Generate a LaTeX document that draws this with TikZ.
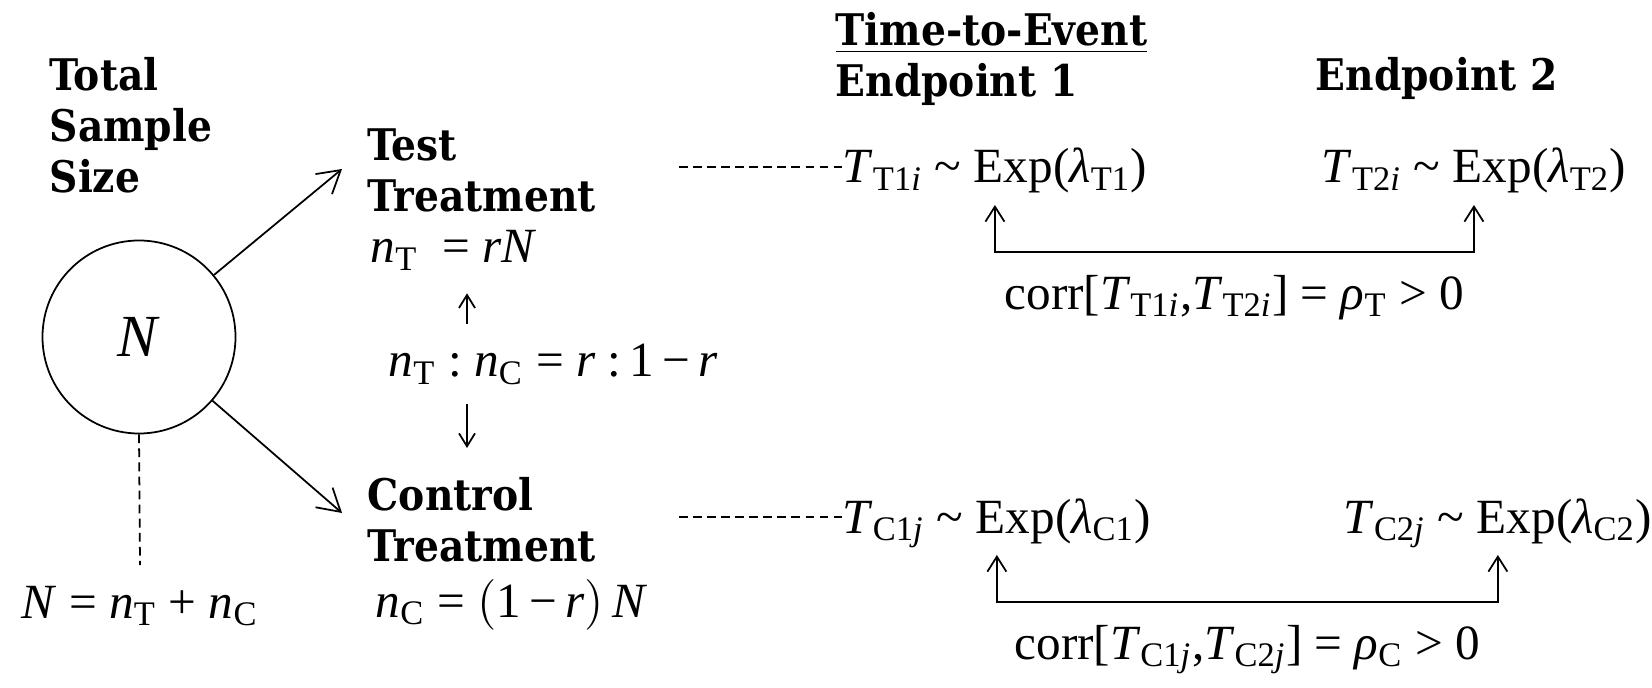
\documentclass[tikz,border=0pt]{standalone}
\usepackage{fontspec}
\setmainfont{Liberation Serif}
\newfontfamily\lblfont{DejaVu Serif Condensed Bold}
\usetikzlibrary{arrows.meta, positioning}

% variables in italic, indices as subscripts
\newcommand{\vi}[1]{\textit{#1}}
\newcommand{\sbs}[1]{\textsubscript{#1}}
\newcommand{\dist}{\ \textasciitilde\ }

\begin{document}
\begin{tikzpicture}[
    lbl/.style={font=\lblfont\fontsize{12.4}{14.5}\selectfont, align=left, inner sep=0pt},
    mth/.style={font=\fontsize{14}{17}\selectfont, inner sep=0pt},
    pool/.style={draw, circle, minimum size=1.93cm, inner sep=0pt, line width=0.5pt},
    arr/.style={-{Straight Barb[length=2.2mm,width=2.6mm]}, line width=0.5pt},
    tinyarr/.style={-{Straight Barb[length=1.3mm,width=1.6mm]}, line width=0.5pt},
    corr/.style={{Straight Barb[length=1.5mm,width=1.9mm]}-{Straight Barb[length=1.5mm,width=1.9mm]}, line width=0.5pt},
    link/.style={dash pattern=on 2.5pt off 1.5pt, line width=0.5pt}
]
\useasboundingbox (0,0) rectangle (16.52,6.87);

% ============================================================
% Total sample size
% ============================================================
\node[lbl, anchor=north west] (total) at (0.49,6.30) {Total\\Sample\\Size};
\node[pool, font=\fontsize{17}{20}\selectfont] (pool) at (1.39,3.50) {\vi{N}};
\node[mth, anchor=base] (nsum) at (1.40,0.69) {\vi{N} = \vi{n}\sbs{T} + \vi{n}\sbs{C}};
\draw[link] (pool.south) -- ([yshift=2mm]nsum.north);

% ============================================================
% Allocation
% ============================================================
\node[lbl, anchor=north west] (test) at (3.67,5.59) {Test\\Treatment};
\node[mth, anchor=base west] (nT) at (3.70,4.24) {\vi{n}\sbs{T}\ \ = \vi{rN}};
\node[mth, anchor=base west] (ratio) at (3.88,3.10) {\vi{n}\sbs{T}\ :\ \vi{n}\sbs{C} = \vi{r}\ :\,1\,−\,\vi{r}};
\node[lbl, anchor=north west] (ctrl) at (3.67,2.10) {Control\\Treatment};
\node[mth, anchor=base west] (nC) at (3.75,0.70) {\vi{n}\sbs{C} = $\bigl($1\,−\,\vi{r}$\bigr)$\,\vi{N}};

\coordinate (tipT) at (3.42,5.18);
\coordinate (tipC) at (3.42,1.74);
\draw[arr] (pool) -- (tipT);
\draw[arr] (pool) -- (tipC);

\coordinate (ax) at (4.67,0);
\draw[tinyarr, shorten <=2mm, shorten >=2.2mm] (ratio.north -| ax) -- (nT.south -| ax);
\draw[tinyarr, shorten <=1.8mm, shorten >=2.9mm] (ratio.south -| ax) -- (ctrl.north -| ax);

% ============================================================
% Time-to-event endpoints
% ============================================================
\node[lbl, anchor=north west] (ep1) at (8.35,6.75) {\underline{Time-to-Event}\\Endpoint 1};
\node[lbl, anchor=base west] (ep2) at (13.15,5.96) {Endpoint 2};

% Test group
\node[mth, anchor=base west] (tt1) at (8.42,5.04) {\vi{T}\sbs{T1\vi{i}}\dist Exp(\vi{λ}\sbs{T1})};
\node[mth, anchor=base west] (tt2) at (13.21,5.04) {\vi{T}\sbs{T2\vi{i}}\dist Exp(\vi{λ}\sbs{T2})};
\coordinate (dT) at (6.79,5.20);
\draw[link] (dT) -- (dT -| tt1.west);
\draw[corr] ([yshift=-2.2mm]tt1.base) -- ++(0,-0.47) -| node[pos=0.25, mth, below=0.22cm] (rhoT)
    {corr[\vi{T}\sbs{T1\vi{i}},\vi{T}\sbs{T2\vi{i}}] = \vi{ρ}\sbs{T} > 0} ([yshift=-2.2mm]tt2.base);

% Control group
\node[mth, anchor=base west] (tc1) at (8.42,1.54) {\vi{T}\sbs{C1\vi{j}}\dist Exp(\vi{λ}\sbs{C1})};
\node[mth, anchor=base west] (tc2) at (13.43,1.54) {\vi{T}\sbs{C2\vi{j}}\dist Exp(\vi{λ}\sbs{C2})};
\coordinate (dC) at (6.79,1.70);
\draw[link] (dC) -- (dC -| tc1.west);
\draw[corr] ([yshift=-2.2mm]tc1.base) -- ++(0,-0.47) -| node[pos=0.25, mth, below=0.22cm] (rhoC)
    {corr[\vi{T}\sbs{C1\vi{j}},\vi{T}\sbs{C2\vi{j}}] = \vi{ρ}\sbs{C} > 0} ([yshift=-2.2mm]tc2.base);
\end{tikzpicture}
\end{document}
